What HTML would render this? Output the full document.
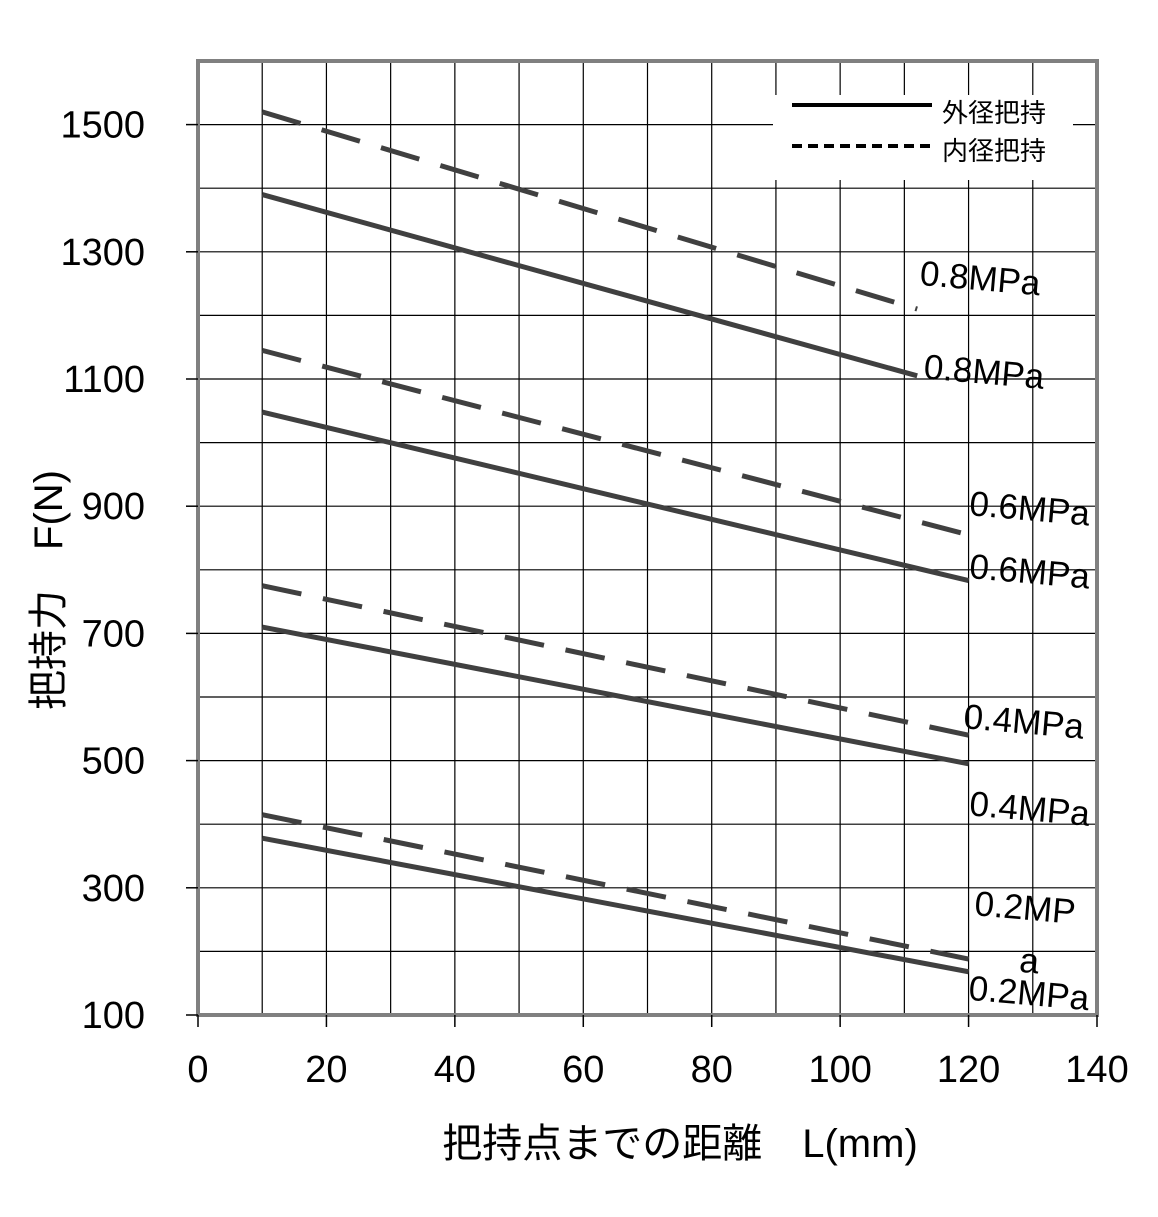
<!DOCTYPE html>
<html><head><meta charset="utf-8">
<style>
html,body{margin:0;padding:0;background:#fff;}
svg{display:block;font-family:"Liberation Sans","Noto Sans CJK JP",sans-serif;}
</style></head>
<body>
<svg id="chart" width="1158" height="1217" viewBox="0 0 1158 1217" xmlns="http://www.w3.org/2000/svg">
<g id="grid"></g>
<g id="series"></g>
<g id="labels"></g>
<g id="axes"></g>
<g>
  <rect x="773" y="95" width="300" height="85" fill="#fff"/>
  <line x1="792" y1="105" x2="932" y2="105" stroke="#000" stroke-width="4"/>
  <text x="942" y="122" font-size="26" fill="#000">外径把持</text>
  <line x1="792" y1="146" x2="932" y2="146" stroke="#000" stroke-width="4" stroke-dasharray="10,6"/>
  <text x="942" y="160" font-size="26" fill="#000">内径把持</text>
</g>
<text x="680" y="1157" font-size="40" text-anchor="middle" fill="#000">把持点までの距離　L(mm)</text>
<text transform="translate(62,590) rotate(-90)" font-size="40" text-anchor="middle" fill="#000">把持力　F(N)</text>
</svg>
<script>
const xTicks=[0,20,40,60,80,100,120,140];
const yTicks=[100,300,500,700,900,1100,1300,1500];
const seriesNames=["outer-0.8","inner-0.8","outer-0.6","inner-0.6","outer-0.4","inner-0.4","outer-0.2","inner-0.2"];
const seriesDashed=[false,true,false,true,false,true,false,true];
const seriesX0=[10,10,10,10,10,10,10,10];
const seriesX1=[112,112,120,120,120,120,120,120];
const seriesY0=[1390,1520,1048,1145,710,775,378,415];
const seriesY1=[1105,1210,783,855,495,540,168,188];
const labelText=["0.8MPa","0.8MPa","0.6MPa","0.6MPa","0.4MPa","0.4MPa","0.2MP","a","0.2MPa"];
const labelX=[112.3,112.9,120,120,119.1,120,120.8,127.8,119.9];
const labelY=[1248,1101,886,787,551,414,257,168,124];

const X0=198,X1=1097,Y0=1015,Y1=61;
const xs=v=>X0+(v-0)/140*(X1-X0);
const ys=v=>Y0-(v-100)/1500*(Y0-Y1);
const NS="http://www.w3.org/2000/svg";
function mk(tag,attrs,parent){const e=document.createElementNS(NS,tag);for(const k in attrs)e.setAttribute(k,attrs[k]);parent.appendChild(e);return e;}
const grid=document.getElementById('grid'),axes=document.getElementById('axes'),ser=document.getElementById('series'),lab=document.getElementById('labels');
for(let v=10;v<140;v+=10){const l=mk('line',{x1:xs(v),x2:xs(v),y1:Y1,y2:Y0,stroke:'#000','stroke-width':1.2},grid);

}
for(let v=200;v<1600;v+=100){const l=mk('line',{x1:X0,x2:X1,y1:ys(v),y2:ys(v),stroke:'#000','stroke-width':1.2},grid);

}
const frame=mk('rect',{x:X0,y:Y1,width:X1-X0,height:Y0-Y1,fill:'none',stroke:'#808080','stroke-width':4},axes);


xTicks.forEach(v=>{const t=mk('line',{x1:xs(v),x2:xs(v),y1:Y0,y2:Y0+12,stroke:'#000','stroke-width':1.5},axes);


const tx=mk('text',{x:xs(v),y:1082,'font-size':38,'text-anchor':'middle',fill:'#000'},axes);tx.textContent=v;

});
yTicks.forEach(v=>{const t=mk('line',{x1:X0-12,x2:X0,y1:ys(v),y2:ys(v),stroke:'#000','stroke-width':1.5},axes);


const tx=mk('text',{x:145,y:ys(v)+13,'font-size':38,'text-anchor':'end',fill:'#000'},axes);tx.textContent=v;

});
seriesNames.forEach((n,i)=>{const a={x1:xs(seriesX0[i]),y1:ys(seriesY0[i]),x2:xs(seriesX1[i]),y2:ys(seriesY1[i]),stroke:'#404040','stroke-width':5};
if(seriesDashed[i])a['stroke-dasharray']='40,22';
const l=mk('line',a,ser);

});
labelText.forEach((t,i)=>{const x=xs(labelX[i]),y=ys(labelY[i]);
const tx=mk('text',{x:x,y:y,'font-size':35,fill:'#000',transform:'rotate(5 '+x+' '+y+')'},lab);tx.textContent=t;

});
</script>
</body></html>
